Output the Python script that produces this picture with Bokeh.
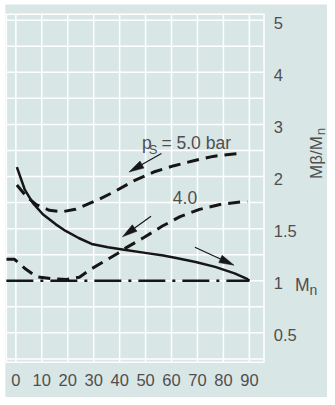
import numpy as np
from bokeh.plotting import figure
from bokeh.models import Range1d
from bokeh.core.properties import value
from bokeh.embed import file_html
from bokeh.resources import INLINE

# ---- data (angle in degrees, torque ratio Mβ/Mn) ----
angle_solid = [0.4, 3.5, 6.6, 10.4, 15.4, 19.2, 24.2, 29.2, 35.5, 41.7, 50.5, 56.8,
               61.8, 69.3, 76.8, 84.3, 89.1, 90]
ratio_solid = [2.18, 1.871, 1.745, 1.638, 1.541, 1.478, 1.410, 1.353, 1.321, 1.297,
               1.265, 1.243, 1.218, 1.180, 1.133, 1.071, 1.018, 1.0]

angle_5bar = [0.4, 4.1, 7.9, 12.9, 17.9, 22.9, 31.7, 38.0, 45.6, 53.1, 61.0, 68.5,
              76.0, 83.9, 86.2]
ratio_5bar = [1.918, 1.808, 1.730, 1.676, 1.662, 1.685, 1.777, 1.855, 1.96, 2.086,
              2.208, 2.302, 2.386, 2.434, 2.44]

angle_4bar = [-3.6, -0.5, 3.5, 7.9, 14.1, 19.5, 24.5, 28.3, 34.7, 39.2, 42.6, 49.5,
              56.5, 63.3, 70.8, 78.7, 86.8, 89.2]
ratio_4bar = [1.206, 1.206, 1.118, 1.039, 1.018, 1.013, 1.034, 1.102, 1.196, 1.262,
              1.318, 1.417, 1.525, 1.615, 1.685, 1.732, 1.756, 1.757]

angle_mn = [-3.65, 90]
ratio_mn = [1.0, 1.0]

x_ticks = [0, 10, 20, 30, 40, 50, 60, 70, 80, 90]
x_tick_labels = ["0", "10", "20", "30", "40", "50", "60", "70", "80", "90"]
y_tick_values = [0.5, 1, 1.5, 2, 3, 4, 5]
y_tick_labels = ["0.5", "1", "1.5", "2", "3", "4", "5"]

# piecewise-linear value axis: 0..2 linear, above 2 compressed by half
def to_axis(vals):
    return np.interp(np.asarray(vals, dtype=float), [0, 2, 6], [0, 2, 4])

BG = "#d9e6e6"
INK = "#161616"
TXT = "#4f4f4f"
FONT = "Liberation Sans"

W, H = 327, 397
XR = (-5.905, 120.10)          # whole canvas in data units
YR = (-0.1204, 3.689)
GX = (-3.65, 95.65)            # grid (plotting) area
GY = (0.218, 3.557)

p = figure(width=W, height=H, x_range=Range1d(*XR), y_range=Range1d(*YR),
           output_backend="svg", toolbar_location=None,
           x_axis_location=None, y_axis_location=None, min_border=0)
p.grid.visible = False
p.outline_line_color = None
p.background_fill_color = "white"
p.border_fill_color = "white"

# tinted panel
p.quad(left=[-4.02], right=[XR[1] + 1], bottom=[YR[0] - 0.1], top=[3.651],
       fill_color=BG, line_color=None)

# white grid
p.segment(x0=x_ticks, y0=[GY[0]] * len(x_ticks), x1=x_ticks, y1=[GY[1]] * len(x_ticks),
          line_color="white", line_width=1.5)
gy = list(np.arange(0.25, 3.51, 0.25))
p.segment(x0=[GX[0]] * len(gy), y0=gy, x1=[GX[1]] * len(gy), y1=gy,
          line_color="white", line_width=1.5)
p.quad(left=[GX[0]], right=[GX[1]], bottom=[GY[0]], top=[GY[1]],
       fill_color=None, line_color="white", line_width=1.5)

# tick labels
p.text(x=x_ticks, y=[0.049] * len(x_ticks), text=x_tick_labels,
       text_font=value(FONT), text_font_size="16.5px", text_color=TXT,
       text_align="center", text_baseline="middle")
ypos = to_axis(y_tick_values) - 0.025
p.text(x=[99.4] * len(ypos), y=ypos, text=y_tick_labels,
       text_font=value(FONT), text_font_size="16.5px", text_color=TXT,
       text_align="left", text_baseline="middle")

# curves
p.line(angle_mn, to_axis(ratio_mn), color=INK, line_width=2.5, line_dash="27 7 3 7")
p.line(angle_4bar, to_axis(ratio_4bar), color=INK, line_width=3, line_dash="12 7",
       line_join="round")
p.line(angle_5bar, to_axis(ratio_5bar), color=INK, line_width=3, line_dash="12 7",
       line_join="round")
p.line(angle_solid, to_axis(ratio_solid), color=INK, line_width=2.5, line_join="round")

# arrows with narrow filled heads
sx = W / (XR[1] - XR[0])
sy = H / (YR[1] - YR[0])

def arrow(tail, tip, L=15, w=4):
    tx, ty = tail[0] * sx, tail[1] * sy
    px, py = tip[0] * sx, tip[1] * sy
    dx, dy = px - tx, py - ty
    n = np.hypot(dx, dy)
    dx, dy = dx / n, dy / n
    bx, by = px - L * dx, py - L * dy
    nx, ny = -dy, dx
    p.line([tail[0], bx / sx], [tail[1], by / sy], color=INK, line_width=1.2)
    p.patch([tip[0], (bx + w * nx) / sx, (bx - w * nx) / sx],
            [tip[1], (by + w * ny) / sy, (by - w * ny) / sy],
            color=INK, line_width=0.5)

arrow((56.1, 2.221), (43.6, 2.043))
arrow((52.1, 1.619), (41.1, 1.422))
arrow((69.0, 1.321), (84.1, 1.149))

def lab(x, y, text, size="17.5px", angle=0.0):
    p.text(x=[x], y=[y], text=[text], angle=angle, text_font=value(FONT),
           text_font_size=size, text_color=TXT, text_baseline="alphabetic",
           text_align="left")

lab(48.6, 2.325, "p")
lab(51.2, 2.259, "S", size="13px")
lab(56.1, 2.325, "= 5.0 bar")
lab(60.5, 1.798, "4.0")
lab(107.6, 0.955, "M")
lab(113.2, 0.914, "n", size="14px")
lab(116.0, 1.977, "Mβ/M", size="17px", angle=np.pi / 2)
lab(117.5, 2.395, "n", size="13.5px", angle=np.pi / 2)

open("out.html", "w").write(file_html(p, INLINE))
